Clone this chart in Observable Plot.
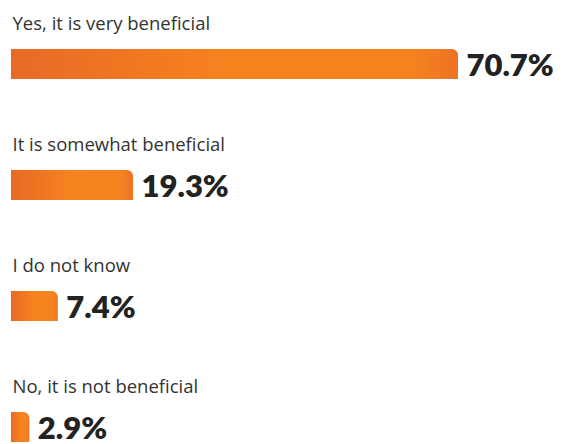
<!DOCTYPE html>
<html><head><meta charset="utf-8">
<script src="https://cdn.jsdelivr.net/npm/d3@7"></script>
<script src="https://cdn.jsdelivr.net/npm/@observablehq/plot@0.6"></script>
<style>body{margin:0;background:#fff;} svg{display:block;}</style>
</head><body><div id="chart"></div>
<script>
const categories = ["Yes, it is very beneficial", "It is somewhat beneficial", "I do not know", "No, it is not beneficial"];
const values = [70.7, 19.3, 7.4, 2.9];
const valueLabels = ["70.7%", "19.3%", "7.4%", "2.9%"];

const data = categories.map((c, i) => ({category: c, value: values[i], label: valueLabels[i]}));

function defs() {
  const ns = "http://www.w3.org/2000/svg";
  const d = document.createElementNS(ns, "defs");
  const g = document.createElementNS(ns, "linearGradient");
  g.setAttribute("id", "barGrad");
  g.setAttribute("x1", "0"); g.setAttribute("x2", "1"); g.setAttribute("y1", "0"); g.setAttribute("y2", "0");
  [["0", "#E76A25"], ["0.5", "#F7831F"], ["0.9", "#F6821F"], ["1", "#EC7225"]].forEach(([o, c]) => {
    const s = document.createElementNS(ns, "stop");
    s.setAttribute("offset", o); s.setAttribute("stop-color", c);
    g.appendChild(s);
  });
  d.appendChild(g);
  return d;
}

const chart = Plot.plot({
  width: 564,
  height: 444,
  marginLeft: 11,
  marginRight: 106,
  marginTop: 48,
  marginBottom: 1,
  x: {domain: [0, 70.7], axis: null},
  y: {domain: categories, axis: null, paddingInner: 0.753, paddingOuter: 0},
  marks: [
    defs,
    Plot.barX(data, {x: "value", y: "category", fill: "url(#barGrad)", rx2y1: 6}),
    Plot.text(data, {x: 0, y: "category", text: "category", textAnchor: "start", dx: 1, dy: -40.5,
      fontSize: 18.5, fill: "#333", fontFamily: "Open Sans"}),
    Plot.text(data, {x: "value", y: "category", text: "label", textAnchor: "start", dx: 8, dy: 2,
      fontSize: 31, fontWeight: 800, fill: "#222", fontFamily: "Lato"})
  ]
});
document.getElementById("chart").appendChild(chart);
</script></body></html>
